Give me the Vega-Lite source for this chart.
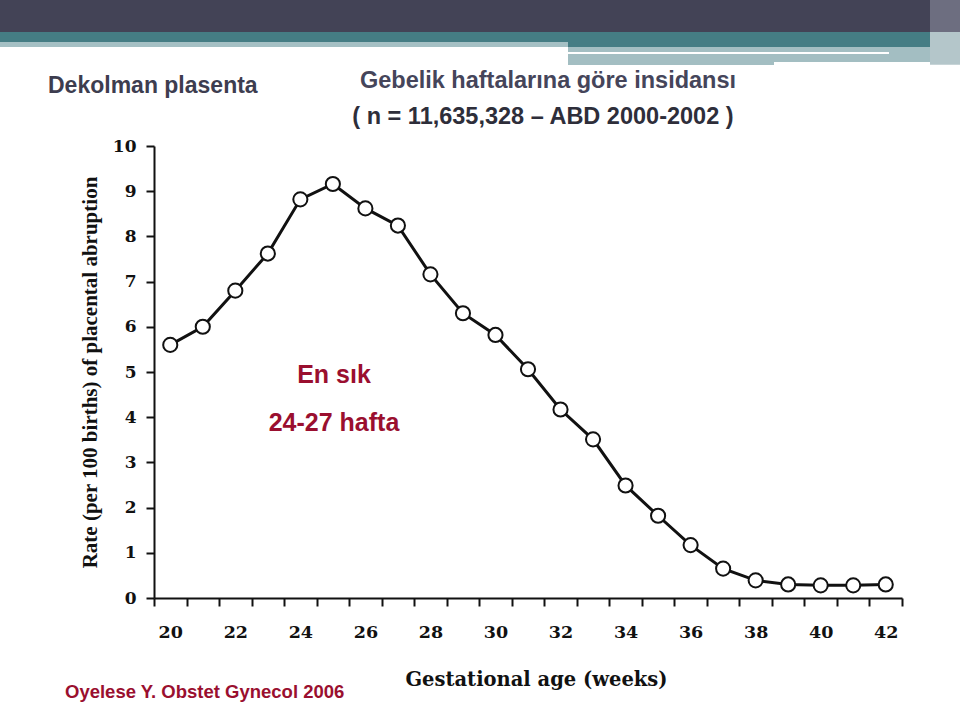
{
  "$schema": "https://vega.github.io/schema/vega-lite/v6.json",
  "width": 748,
  "height": 452,
  "autosize": {"type": "none"},
  "padding": {"left": 154, "top": 146, "right": 58, "bottom": 109},
  "background": "white",
  "config": {"view": {"stroke": null}},
  "layer": [
    {
      "data": {"values": [
        {"week": 20, "rate": 5.6},
        {"week": 21, "rate": 6.0},
        {"week": 22, "rate": 6.8},
        {"week": 23, "rate": 7.62},
        {"week": 24, "rate": 8.82},
        {"week": 25, "rate": 9.16},
        {"week": 26, "rate": 8.62},
        {"week": 27, "rate": 8.24},
        {"week": 28, "rate": 7.16},
        {"week": 29, "rate": 6.3},
        {"week": 30, "rate": 5.82},
        {"week": 31, "rate": 5.06},
        {"week": 32, "rate": 4.17},
        {"week": 33, "rate": 3.51},
        {"week": 34, "rate": 2.49},
        {"week": 35, "rate": 1.82},
        {"week": 36, "rate": 1.17},
        {"week": 37, "rate": 0.65},
        {"week": 38, "rate": 0.39},
        {"week": 39, "rate": 0.3},
        {"week": 40, "rate": 0.28},
        {"week": 41, "rate": 0.28},
        {"week": 42, "rate": 0.3}
      ]},
      "encoding": {
        "x": {
          "field": "week",
          "type": "quantitative",
          "scale": {"domain": [19.5, 42.5], "nice": false, "zero": false},
          "axis": {
            "title": "Gestational age (weeks)",
            "values": [19.5,20,20.5,21,21.5,22,22.5,23,23.5,24,24.5,25,25.5,26,26.5,27,27.5,28,28.5,29,29.5,30,30.5,31,31.5,32,32.5,33,33.5,34,34.5,35,35.5,36,36.5,37,37.5,38,38.5,39,39.5,40,40.5,41,41.5,42,42.5],
            "tickCount": 60,
            "labelExpr": "(datum.value % 2 == 0) ? toString(datum.value) : ''",
            "tickOpacity": {"condition": {"test": "datum.value % 1 != 0", "value": 1}, "value": 0},
            "grid": false,
            "domainColor": "#111111",
            "domainWidth": 2,
            "tickColor": "#111111",
            "tickWidth": 2,
            "tickSize": 8,
            "labelFont": "DejaVu Serif",
            "labelFontWeight": "bold",
            "labelFontSize": 17.5,
            "labelColor": "#111111",
            "labelPadding": 17,
            "labelOverlap": false,
            "labelFlush": false,
            "labelBound": false,
            "titleFont": "DejaVu Serif",
            "titleFontWeight": "bold",
            "titleFontSize": 19.5,
            "titleColor": "#111111",
            "titlePadding": 30,
            "titleX": 382
          }
        },
        "y": {
          "field": "rate",
          "type": "quantitative",
          "scale": {"domain": [0, 10], "nice": false, "zero": true},
          "axis": {
            "title": "Rate (per 100 births) of placental abruption",
            "values": [0,1,2,3,4,5,6,7,8,9,10],
            "grid": false,
            "domainColor": "#111111",
            "domainWidth": 2,
            "tickColor": "#111111",
            "tickWidth": 2,
            "tickSize": 8,
            "labelFont": "DejaVu Serif",
            "labelFontWeight": "bold",
            "labelFontSize": 17,
            "labelColor": "#111111",
            "labelPadding": 10,
            "titleFont": "Liberation Serif",
            "titleFontWeight": "bold",
            "titleFontSize": 21,
            "titleColor": "#111111",
            "titlePadding": 12
          }
        }
      },
      "layer": [
        {"mark": {"type": "line", "color": "#111111", "strokeWidth": 3}},
        {"mark": {"type": "point", "shape": "circle", "filled": true, "fill": "white", "stroke": "#111111", "strokeWidth": 2, "size": 200, "opacity": 1}}
      ]
    },
    {
      "data": {"values": [{}]},
      "layer": [
        {"mark": {"type": "rect", "color": "#434356"}, "encoding": {"x": {"datum": 14.5, "type": "quantitative"}, "x2": {"datum": 44.5}, "y": {"datum": 13.4, "type": "quantitative"}, "y2": {"datum": 12.522}}},
        {"mark": {"type": "rect", "color": "#457d84"}, "encoding": {"x": {"datum": 14.5, "type": "quantitative"}, "x2": {"datum": 44.5}, "y": {"datum": 12.522, "type": "quantitative"}, "y2": {"datum": 12.301}}},
        {"mark": {"type": "rect", "color": "#a5c0c4"}, "encoding": {"x": {"datum": 14.5, "type": "quantitative"}, "x2": {"datum": 32.23}, "y": {"datum": 12.301, "type": "quantitative"}, "y2": {"datum": 12.19}}},
        {"mark": {"type": "rect", "color": "#457d84"}, "encoding": {"x": {"datum": 32.23, "type": "quantitative"}, "x2": {"datum": 44.5}, "y": {"datum": 12.301, "type": "quantitative"}, "y2": {"datum": 12.19}}},
        {"mark": {"type": "rect", "color": "#a3bec2"}, "encoding": {"x": {"datum": 32.23, "type": "quantitative"}, "x2": {"datum": 43.361}, "y": {"datum": 12.19, "type": "quantitative"}, "y2": {"datum": 11.858}}},
        {"mark": {"type": "rect", "color": "#ffffff"}, "encoding": {"x": {"datum": 32.23, "type": "quantitative"}, "x2": {"datum": 42.1}, "y": {"datum": 12.08, "type": "quantitative"}, "y2": {"datum": 12.035}}},
        {"mark": {"type": "rect", "color": "#a3bec2"}, "encoding": {"x": {"datum": 32.23, "type": "quantitative"}, "x2": {"datum": 38.564}, "y": {"datum": 11.858, "type": "quantitative"}, "y2": {"datum": 11.792}}},
        {"mark": {"type": "rect", "color": "#6d6e80"}, "encoding": {"x": {"datum": 43.361, "type": "quantitative"}, "x2": {"datum": 44.5}, "y": {"datum": 13.4, "type": "quantitative"}, "y2": {"datum": 12.522}}},
        {"mark": {"type": "rect", "color": "#b4c6ca"}, "encoding": {"x": {"datum": 43.361, "type": "quantitative"}, "x2": {"datum": 44.5}, "y": {"datum": 12.522, "type": "quantitative"}, "y2": {"datum": 11.8}}},
        {"mark": {"type": "text", "align": "left", "baseline": "middle", "font": "Liberation Sans", "fontWeight": "bold", "fontSize": 23, "color": "#3d3d4f"}, "encoding": {"x": {"datum": 16.241, "type": "quantitative"}, "y": {"datum": 11.327, "type": "quantitative"}, "text": {"value": "Dekolman plasenta"}}},
        {"mark": {"type": "text", "align": "center", "baseline": "middle", "font": "Liberation Sans", "fontWeight": "bold", "fontSize": 23.5, "color": "#45455a"}, "encoding": {"x": {"datum": 31.615, "type": "quantitative"}, "y": {"datum": 11.438, "type": "quantitative"}, "text": {"value": "Gebelik haftalarına göre insidansı"}}},
        {"mark": {"type": "text", "align": "center", "baseline": "middle", "font": "Liberation Sans", "fontWeight": "bold", "fontSize": 23.5, "color": "#2e2e3a"}, "encoding": {"x": {"datum": 31.461, "type": "quantitative"}, "y": {"datum": 10.642, "type": "quantitative"}, "text": {"value": "( n = 11,635,328 – ABD 2000-2002 )"}}},
        {"mark": {"type": "text", "align": "center", "baseline": "middle", "font": "Liberation Sans", "fontWeight": "bold", "fontSize": 25, "color": "#9a0f2f"}, "encoding": {"x": {"datum": 25.035, "type": "quantitative"}, "y": {"datum": 4.934, "type": "quantitative"}, "text": {"value": "En sık"}}},
        {"mark": {"type": "text", "align": "center", "baseline": "middle", "font": "Liberation Sans", "fontWeight": "bold", "fontSize": 25, "color": "#9a0f2f"}, "encoding": {"x": {"datum": 25.035, "type": "quantitative"}, "y": {"datum": 3.872, "type": "quantitative"}, "text": {"value": "24-27 hafta"}}},
        {"mark": {"type": "text", "align": "left", "baseline": "middle", "font": "Liberation Sans", "fontWeight": "bold", "fontSize": 18.5, "color": "#9a0f2f"}, "encoding": {"x": {"datum": 16.763, "type": "quantitative"}, "y": {"datum": -2.08, "type": "quantitative"}, "text": {"value": "Oyelese Y. Obstet Gynecol 2006"}}}
      ]
    }
  ]
}
